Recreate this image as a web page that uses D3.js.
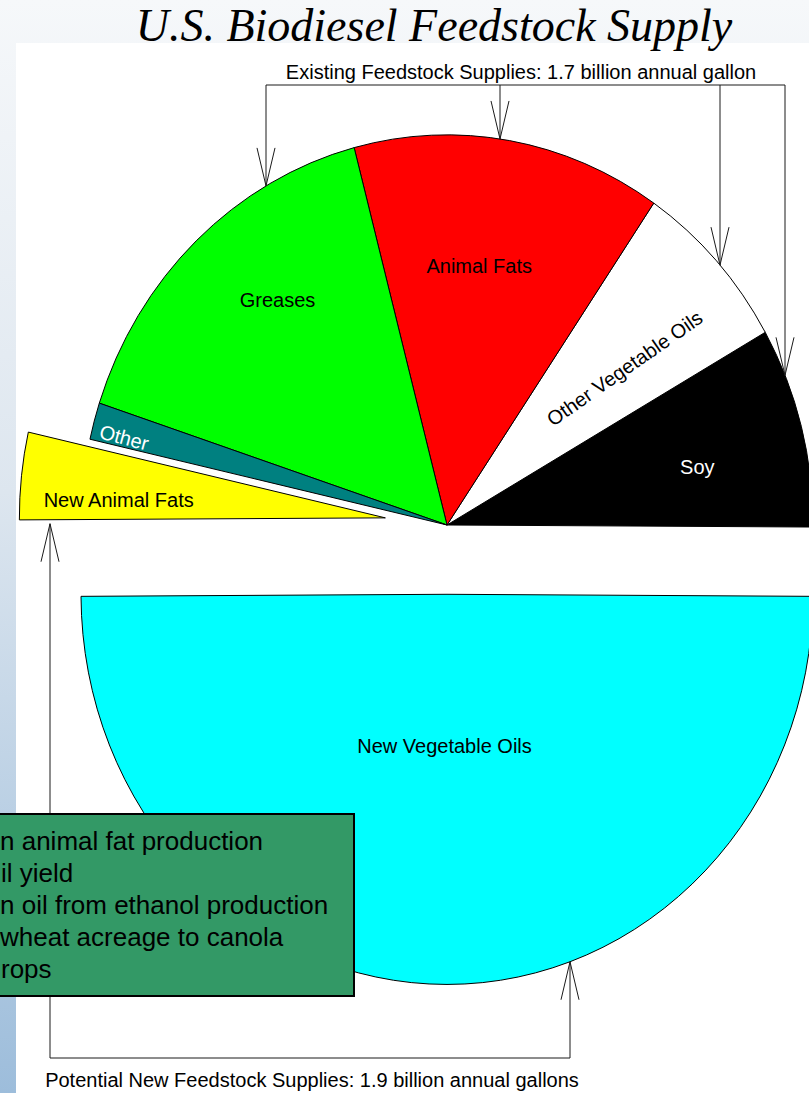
<!DOCTYPE html>
<html>
<head>
<meta charset="utf-8">
<script src="https://cdn.jsdelivr.net/npm/d3@7"></script>
<style>
  html, body { margin: 0; padding: 0; background: #fff; }
  svg { display: block; }
  text { font-family: "Liberation Sans", Arial, sans-serif; }
</style>
</head>
<body>
<div id="chart"></div>
<script>
// Feedstock supply, million gallons per year
const categories = ["Soy", "Other Vegetable Oils", "Animal Fats", "Greases", "Other", "New Animal Fats", "New Vegetable Oils"];
const values = [299, 260, 491, 571, 55, 130, 1794];
const boxLines = ["n animal fat production", "il yield", "n oil from ethanol production", "wheat acreage to canola", "rops"];
const title = "U.S. Biodiesel Feedstock Supply";
const topNote = "Existing Feedstock Supplies:  1.7 billion annual gallon";
const bottomNote = "Potential New Feedstock Supplies: 1.9 billion annual gallons";

const width = 809, height = 1093;
const cx = 447, cy = 525;   // pie centre
const R = 366;              // horizontal radius
const sy = 1.066;           // slide is stretched a little vertically

const colors = {
    "Soy": "#000000",
    "Other Vegetable Oils": "#ffffff",
    "Animal Fats": "#ff0000",
    "Greases": "#00ff00",
    "Other": "#008080",
    "New Animal Fats": "#ffff00",
    "New Vegetable Oils": "#00ffff"
};
const explode = { "New Animal Fats": 62, "New Vegetable Oils": 65 };
// label placement: fraction of radius, angle shift (deg, ccw), rotation
const labelStyle = {
    "Soy": { rf: 0.70, shift: -2.3, rot: 0, fill: "#fff" },
    "Other Vegetable Oils": { rf: 0.63, shift: -3, rot: -35, fill: "#000" },
    "Animal Fats": { rf: 0.67, shift: 2.3, rot: 0, fill: "#000" },
    "Greases": { rf: 0.74, shift: -4.5, rot: 0, fill: "#000" },
    "Other": { rf: 0.91, shift: 1.2, rot: 15, fill: "#fff" },
    "New Animal Fats": { rf: 0.73, shift: 2.7, rot: 0, fill: "#000" },
    "New Vegetable Oils": { rf: 0.39, shift: -1, rot: 0, fill: "#000" }
};

const svg = d3.select("#chart")
    .append("svg")
    .attr("width", width)
    .attr("height", height);

// slide background
const grad = svg.append("defs").append("linearGradient")
    .attr("id", "bg").attr("x1", 0).attr("y1", 0).attr("x2", 0).attr("y2", 1);
grad.append("stop").attr("offset", "0%").attr("stop-color", "#f6f8fa");
grad.append("stop").attr("offset", "45%").attr("stop-color", "#dde6ef");
grad.append("stop").attr("offset", "100%").attr("stop-color", "#9dbddb");
svg.append("rect").attr("width", width).attr("height", height).attr("fill", "url(#bg)");
svg.append("rect").attr("x", 16).attr("y", 43).attr("width", width - 16).attr("height", height - 43).attr("fill", "#fff");

svg.append("text")
    .attr("x", 434).attr("y", 41)
    .attr("text-anchor", "middle")
    .style("font-family", "'Liberation Serif', 'Times New Roman', serif")
    .style("font-style", "italic")
    .style("font-size", "46px")
    .text(title);

// Pie
const data = categories.map((c, i) => ({ name: c, value: values[i] }));
const a0 = Math.PI / 2 + 0.3 * Math.PI / 180;
const pie = d3.pie().sort(null).value(d => d.value)
    .startAngle(a0).endAngle(a0 - 2 * Math.PI);
const arcs = pie(data);
const arc = d3.arc().innerRadius(0).outerRadius(R);

function offsetOf(d) {
    const e = explode[d.data.name] || 0;
    const m = (d.startAngle + d.endAngle) / 2;
    return [e * Math.sin(m), -e * Math.cos(m)];
}
// unstretched pie coords -> screen
function toScreen(x, y) { return [cx + x, cy + sy * y]; }

const pieG = svg.append("g")
    .attr("transform", `translate(${cx},${cy}) scale(1,${sy})`);

pieG.selectAll("path")
    .data(arcs)
    .enter()
    .append("path")
    .attr("transform", d => `translate(${offsetOf(d)})`)
    .attr("d", arc)
    .attr("fill", d => colors[d.data.name])
    .attr("stroke", "#000")
    .attr("stroke-width", 1)
    .attr("vector-effect", "non-scaling-stroke");

// slice labels
arcs.forEach(d => {
    const s = labelStyle[d.data.name];
    const [ox, oy] = offsetOf(d);
    const m = (d.startAngle + d.endAngle) / 2 - s.shift * Math.PI / 180;
    const r = s.rf * R;
    const [x, y] = toScreen(ox + r * Math.sin(m), oy - r * Math.cos(m));
    svg.append("text")
        .attr("transform", `translate(${x},${y}) rotate(${s.rot})`)
        .attr("text-anchor", "middle")
        .attr("dy", "0.35em")
        .attr("fill", s.fill)
        .style("font-size", "20px")
        .text(d.data.name);
});

// arrows
const lineCol = "#1a1a1a";
function arrow(x, yFrom, yTip) {
    const dir = Math.sign(yTip - yFrom);
    svg.append("line")
        .attr("x1", x).attr("y1", yFrom).attr("x2", x).attr("y2", yTip)
        .attr("stroke", lineCol).attr("stroke-width", 1);
    svg.append("path")
        .attr("d", `M${x - 9},${yTip - dir * 38}L${x},${yTip}L${x + 9},${yTip - dir * 38}`)
        .attr("fill", "none").attr("stroke", lineCol).attr("stroke-width", 1);
}
function topOfPie(x) { return cy - sy * Math.sqrt(R * R - (x - cx) * (x - cx)); }

// existing supplies bracket
const topY = 85;
const topXs = [266, 500, 720, 785];
svg.append("line")
    .attr("x1", topXs[0]).attr("x2", topXs[topXs.length - 1])
    .attr("y1", topY).attr("y2", topY)
    .attr("stroke", lineCol).attr("stroke-width", 1);
topXs.forEach(x => arrow(x, topY, topOfPie(x)));
svg.append("text")
    .attr("x", 521).attr("y", 79)
    .attr("text-anchor", "middle")
    .style("font-size", "20px")
    .text(topNote);

// new supplies bracket
const nvo = arcs[6], naf = arcs[5];
const [nox, noy] = offsetOf(nvo);
const [aox, aoy] = offsetOf(naf);
const botY = 1058, leftX = 50, rightX = 570;
const nvoBottom = cy + sy * (noy + Math.sqrt(R * R - (rightX - cx - nox) ** 2));
// bottom edge of the new animal fats slice at leftX
const tipX = R * Math.sin(naf.endAngle), tipY = -R * Math.cos(naf.endAngle);
const tEdge = (leftX - cx - aox) / tipX;
const nafBottom = cy + sy * (aoy + tEdge * tipY) + 4;
svg.append("path")
    .attr("d", `M${leftX},${botY}L${rightX},${botY}`)
    .attr("stroke", lineCol).attr("fill", "none").attr("stroke-width", 1);
arrow(leftX, botY, nafBottom);
arrow(rightX, botY, nvoBottom);
svg.append("text")
    .attr("x", 312).attr("y", 1087)
    .attr("text-anchor", "middle")
    .style("font-size", "20px")
    .text(bottomNote);

// text box
svg.append("rect")
    .attr("x", -4).attr("y", 814).attr("width", 358).attr("height", 182)
    .attr("fill", "#339966").attr("stroke", "#000").attr("stroke-width", 2);
const boxX = [0, 1, 0, 0, 1];
boxLines.forEach((t, i) => {
    svg.append("text")
        .attr("x", boxX[i]).attr("y", 850 + i * 32)
        .style("font-size", "26px")
        .attr("fill", "#000")
        .text(t);
});
</script>
</body>
</html>
